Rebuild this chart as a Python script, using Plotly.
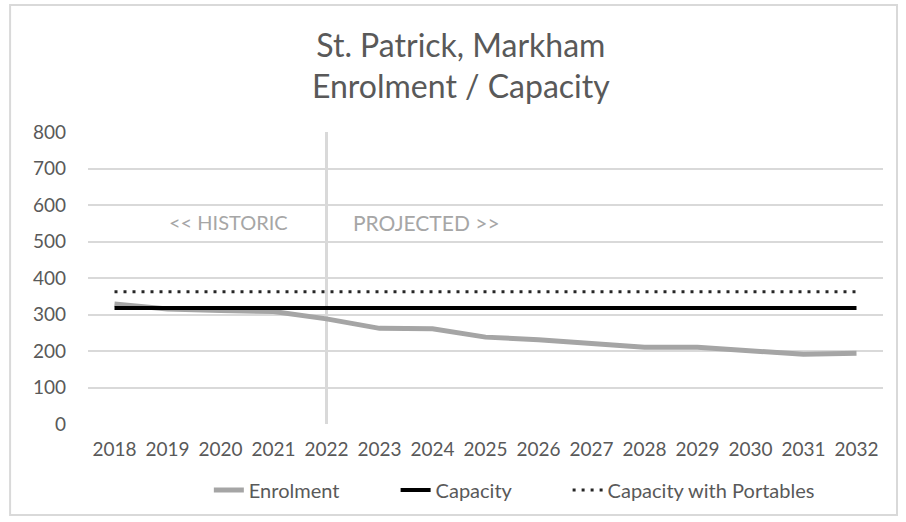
import plotly.graph_objects as go

# Data
years = [2018, 2019, 2020, 2021, 2022, 2023, 2024, 2025, 2026, 2027, 2028, 2029, 2030, 2031, 2032]
enrolment = [329, 315, 311, 308, 288, 262, 261, 238, 231, 219, 210, 210, 201, 191, 194]
capacity = [318] * 15
capacity_portables = [362] * 15
split_year = 2022

font_family = "Lato, Carlito, Calibri, sans-serif"
text_grey = "#595959"
grid_grey = "#d9d9d9"
pad = "\u00a0" * 10  # extra room between legend entries

fig = go.Figure()
fig.add_trace(go.Scatter(x=years, y=enrolment, name="Enrolment" + pad, mode="lines",
                         line=dict(color="#a5a5a5", width=5)))
fig.add_trace(go.Scatter(x=years, y=capacity, name="Capacity" + pad, mode="lines",
                         line=dict(color="#000000", width=4)))
fig.add_trace(go.Scatter(x=years, y=capacity_portables, name="Capacity with Portables", mode="lines",
                         line=dict(color="#262626", width=3, dash="3px,6px")))

# historic / projected divider
fig.add_shape(type="line", xref="x", yref="y", x0=split_year, x1=split_year, y0=0, y1=800,
              line=dict(color=grid_grey, width=3), layer="below")

# chart border
fig.add_shape(type="rect", xref="paper", yref="paper", x0=-0.098, x1=1.0176, y0=-0.312, y1=1.435,
              line=dict(color=grid_grey, width=2))

fig.add_annotation(text="&lt;&lt; HISTORIC", xref="paper", yref="y", x=0.177, y=553, showarrow=False,
                   xanchor="center", yanchor="middle",
                   font=dict(family=font_family, size=20, color="#a6a6a6"))
fig.add_annotation(text="PROJECTED &gt;&gt;", xref="paper", yref="y", x=0.426, y=553, showarrow=False,
                   xanchor="center", yanchor="middle",
                   font=dict(family=font_family, size=21, color="#a6a6a6"))

fig.update_layout(
    width=906, height=522,
    margin=dict(l=88, r=23, t=132, b=98),
    paper_bgcolor="white", plot_bgcolor="white",
    font=dict(family=font_family, color=text_grey),
    title=dict(text="St. Patrick, Markham<br>Enrolment / Capacity", x=0.469, xref="paper",
               y=0.891, yanchor="middle", xanchor="center",
               font=dict(family=font_family, size=32, color=text_grey)),
    showlegend=True,
    legend=dict(orientation="h", x=0.152, xanchor="left", y=-0.226, yanchor="middle",
                font=dict(family=font_family, size=20, color=text_grey), itemwidth=30),
)
fig.update_xaxes(range=[2017.5, 2032.5], tickmode="array", tickvals=years, ticktext=[str(y) for y in years],
                 showgrid=False, zeroline=False, showline=False, ticks="", ticklabelstandoff=12,
                 tickfont=dict(family=font_family, size=19, color=text_grey), fixedrange=True)
fig.update_yaxes(range=[0, 800], dtick=100, showgrid=True, gridcolor=grid_grey, gridwidth=2,
                 zeroline=False, showline=False, ticks="", ticklabelstandoff=21,
                 tickfont=dict(family=font_family, size=19, color=text_grey), fixedrange=True)

fig.write_html("out.html", config={"displayModeBar": False},
               post_script="document.body.style.margin='0';")
